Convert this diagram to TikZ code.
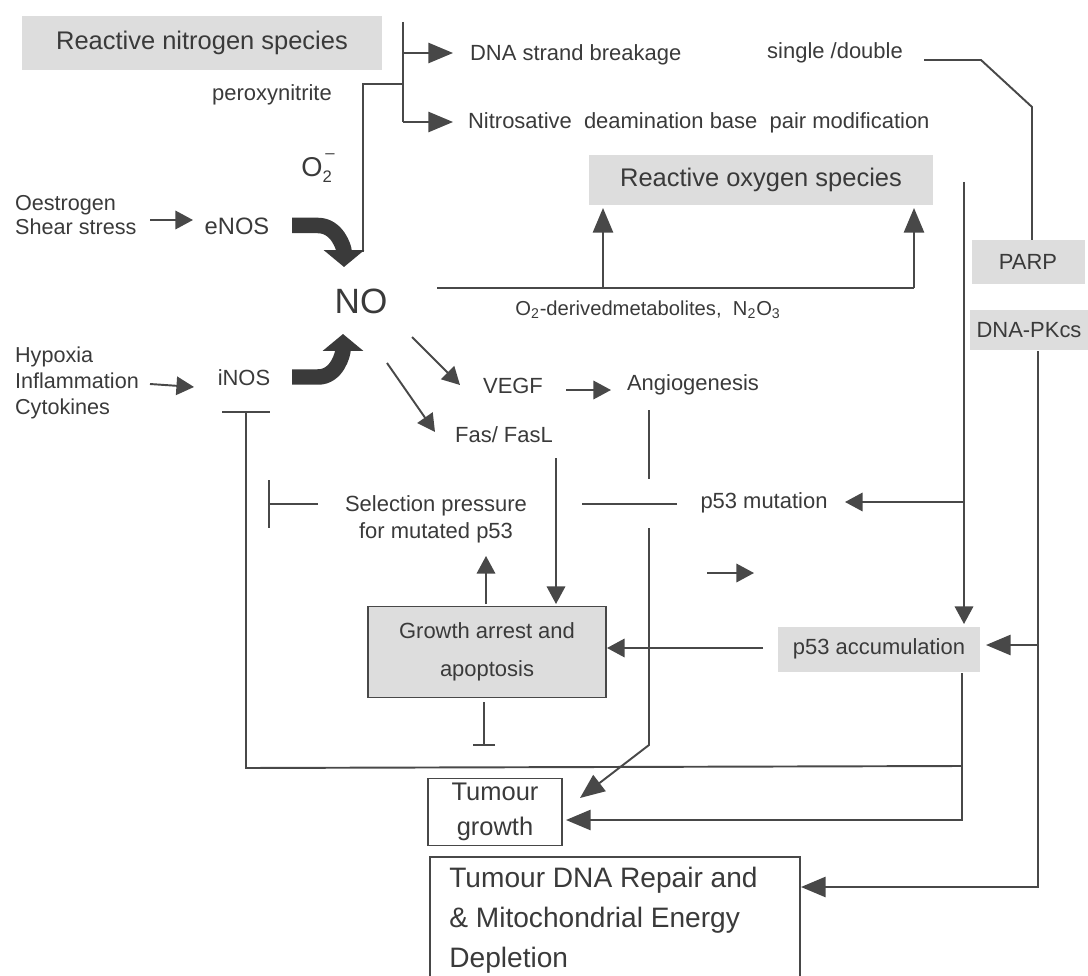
\documentclass[tikz,border=0pt]{standalone}
\usepackage{fontspec}
\setmainfont{Liberation Sans}
\usetikzlibrary{arrows.meta}
\definecolor{ink}{RGB}{58,58,58}
\definecolor{wire}{RGB}{72,72,72}
\definecolor{shade}{RGB}{221,221,221}
\tikzset{
  lbl/.style={text=ink, inner sep=1pt, font=\fontsize{12.5}{14.5}\selectfont},
  big/.style={font=\fontsize{14.5}{17}\selectfont},
  conn/.style={draw=wire, line width=1.1pt},
  arr/.style={conn, -{Triangle[length=10pt,width=10.5pt]}},
  bigarr/.style={conn, -{Triangle[length=14pt,width=11.5pt]}},
  inh/.style={conn, -{Bar[width=#1]}},
  shadebox/.style={fill=shade, inner sep=0pt, text=ink},
  fat/.style={draw=ink, line width=0.31cm, -{Triangle[length=0.34cm,width=0.8cm]}},
}
\begin{document}
\begin{tikzpicture}[x=0.02cm,y=-0.02cm]
\useasboundingbox (0,0) rectangle (1088,976);
% ---------- boxes
\node[shadebox, big, minimum width=7.22cm, minimum height=1.1cm] (rns) at (202,43) {Reactive nitrogen species};
\node[shadebox, big, minimum width=6.88cm, minimum height=1.0cm] (ros) at (761,180) {Reactive oxygen species};
\node[lbl, shadebox, minimum width=2.26cm, minimum height=0.9cm] (parp) at (1028,262) {PARP};
\node[lbl, shadebox, minimum width=2.36cm, minimum height=0.82cm] (dnapk) at (1029,330) {DNA-PKcs};
\node[lbl, shadebox, minimum width=4.04cm, minimum height=0.9cm] (p53acc) at (879,649) {p53 accumulation};
\node[lbl, shadebox, draw=wire, line width=1.1pt, minimum width=4.76cm, minimum height=1.82cm, align=center, font=\fontsize{12.5}{21.5}\selectfont] (growth) at (487,652) {Growth arrest and\\apoptosis};
\node[lbl, draw=wire, line width=1.1pt, minimum width=2.68cm, minimum height=1.34cm, align=center, font=\fontsize{14.5}{19.5}\selectfont] (tumour) at (495,812) {Tumour\\growth};
\node[lbl, anchor=north west, align=left, inner sep=0pt, font=\fontsize{16}{22.7}\selectfont] (repair) at (449,867) {Tumour DNA Repair and\\\& Mitochondrial Energy\\Depletion};
\coordinate (repBL) at (430,990);
\coordinate (repTL) at (430,857);
\coordinate (repTR) at (800,857);
\coordinate (repBR) at (800,990);
\draw[conn] (repBL) -- (repTL) -- (repTR) -- (repBR);
% ---------- labels
\node[lbl] (perox) at (272,95) {peroxynitrite};
\node[lbl, anchor=west] (dna) at (468,55) {DNA strand breakage};
\node[lbl] (single) at (835,53) {single /double};
\node[lbl, anchor=west] (nitro) at (466,123) {Nitrosative\ \ deamination base\ \ pair modification};
\node[text=ink, font=\fontsize{15.5}{17}\selectfont] (o2) at (318,168) {O\makebox[0pt][l]{\raisebox{-0.45ex}{\fontsize{9.5}{9.5}\selectfont 2}}\raisebox{1.25ex}{\fontsize{9.5}{9.5}\selectfont\,–}};
\node[lbl, anchor=west, align=left, font=\fontsize{12.3}{13.6}\selectfont] (oest) at (13,215) {Oestrogen\\Shear stress};
\node[lbl, font=\fontsize{13.5}{15}\selectfont] (enos) at (237,226) {eNOS};
\node[text=ink, font=\fontsize{20}{22}\selectfont] (no) at (361,301) {NO};
\node[lbl, anchor=west, align=left, font=\fontsize{12.3}{15}\selectfont] (hyp) at (13,383) {Hypoxia\\Inflammation\\Cytokines};
\node[lbl] (inos) at (244,378) {iNOS};
\node[lbl, font=\fontsize{11.5}{13}\selectfont] (metab) at (648,310) {O\textsubscript{2}-derivedmetabolites,\ \ N\textsubscript{2}O\textsubscript{3}};
\node[lbl] (vegf) at (513,386) {VEGF};
\node[lbl] (fas) at (504,435) {Fas/ FasL};
\node[lbl] (angio) at (693,385) {Angiogenesis};
\node[lbl, align=center, font=\fontsize{12.5}{15.3}\selectfont] (sel) at (436,519) {Selection pressure\\for mutated p53};
\node[lbl] (mut) at (764,503) {p53 mutation};
% ---------- coordinates
\coordinate (barTop) at (403,22);
\coordinate (barMid) at (403,53);
\coordinate (barPer) at (403,84);
\coordinate (barBot) at (403,122);
\coordinate (dnaTip) at (453,53);
\coordinate (nitTip) at (453,122);
\coordinate (perBend) at (363,84);
\coordinate (perEnd) at (363,252);
\coordinate (sdA) at (924,60);
\coordinate (sdB) at (981,60);
\coordinate (sdC) at (1032,107);
\coordinate (sdD) at (1032,240);
\coordinate (oestA) at (150,220);
\coordinate (oestB) at (193,220);
\coordinate (hypA) at (150,384);
\coordinate (hypB) at (194,387);
\coordinate (eStart) at (292,225.5);
\coordinate (eBend) at (318,225.5);
\coordinate (eTip) at (344,267);
\coordinate (iStart) at (292,377);
\coordinate (iBend) at (318,377);
\coordinate (iTip) at (343,334);
\coordinate (noL) at (437,288);
\coordinate (rosA) at (603,288);
\coordinate (rosATip) at (603,208);
\coordinate (noR) at (914,288);
\coordinate (rosBTip) at (914,208);
\coordinate (vegfA) at (412,337);
\coordinate (vegfB) at (460,385);
\coordinate (fasA) at (387,363);
\coordinate (fasB) at (435,432);
\coordinate (vaA) at (566,390);
\coordinate (vaB) at (611,390);
\coordinate (angA) at (649,410);
\coordinate (angB) at (649,479);
\coordinate (angC) at (649,528);
\coordinate (angD) at (649,745);
\coordinate (tgDiag) at (580,798);
\coordinate (fasTop) at (556,458);
\coordinate (fasTip) at (556,604);
\coordinate (grUp) at (486,604);
\coordinate (grUpTip) at (486,556);
\coordinate (selA) at (318,504);
\coordinate (selBar) at (268,504);
\coordinate (mutA) at (677,504);
\coordinate (mutB) at (582,504);
\coordinate (rosDownTop) at (964,182);
\coordinate (rosDownJ) at (964,502);
\coordinate (rosDownTip) at (964,624);
\coordinate (mutTip) at (845,502);
\coordinate (smA) at (707,573);
\coordinate (smB) at (754,573);
\coordinate (accL) at (763,648);
\coordinate (grTip) at (607,648);
\coordinate (grBot) at (484,702);
\coordinate (grBar) at (484,746);
\coordinate (accJ) at (962,766);
\coordinate (inosCorner) at (246,768);
\coordinate (inosBar) at (246,411);
\coordinate (accBot) at (962,673);
\coordinate (accCorner) at (962,820);
\coordinate (tgTip) at (566,820);
\coordinate (pkTop) at (1038,351);
\coordinate (pkJ) at (1038,645);
\coordinate (pkAccTip) at (986,645);
\coordinate (pkCorner) at (1038,887);
\coordinate (repTip) at (801,887);
% ---------- connectors
\draw[conn] (barTop) -- (barBot);
\draw[bigarr] (barMid) -- (dnaTip);
\draw[bigarr] (barBot) -- (nitTip);
\draw[conn] (barPer) -- (perBend) -- (perEnd);
\draw[conn] (sdA) -- (sdB) -- (sdC) -- (sdD);
\draw[arr] (oestA) -- (oestB);
\draw[arr] (hypA) -- (hypB);
\draw[fat] (eStart) -- (eBend) to[out=0,in=90] (eTip);
\draw[fat] (iStart) -- (iBend) to[out=0,in=-90] (iTip);
\draw[conn] (noL) -- (noR);
\draw[bigarr] (rosA) -- (rosATip);
\draw[bigarr] (noR) -- (rosBTip);
\draw[arr] (vegfA) -- (vegfB);
\draw[arr] (fasA) -- (fasB);
\draw[arr] (vaA) -- (vaB);
\draw[conn] (angA) -- (angB);
\draw[bigarr] (angC) -- (angD) -- (tgDiag);
\draw[arr] (fasTop) -- (fasTip);
\draw[arr] (grUp) -- (grUpTip);
\draw[inh=0.96cm] (selA) -- (selBar);
\draw[conn] (mutA) -- (mutB);
\draw[arr] (rosDownTop) -- (rosDownTip);
\draw[arr] (rosDownJ) -- (mutTip);
\draw[arr] (smA) -- (smB);
\draw[arr] (accL) -- (grTip);
\draw[inh=0.44cm] (grBot) -- (grBar);
\draw[inh=0.96cm] (accJ) -- (inosCorner) -- (inosBar);
\draw[bigarr] (accBot) -- (accCorner) -- (tgTip);
\draw[bigarr] (pkTop) -- (pkCorner) -- (repTip);
\draw[bigarr] (pkJ) -- (pkAccTip);
\end{tikzpicture}
\end{document}
